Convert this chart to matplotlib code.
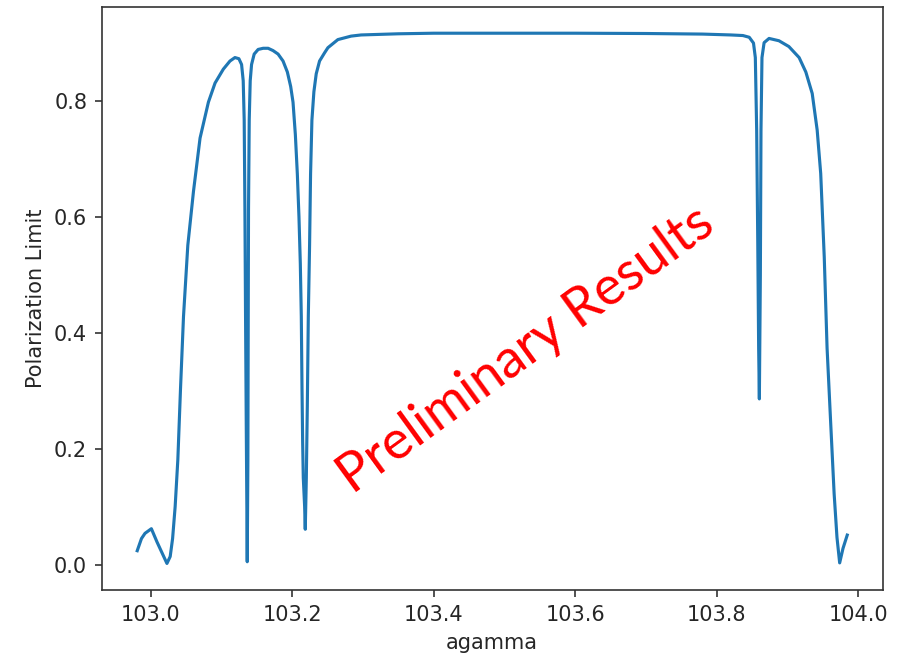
import matplotlib
matplotlib.use("Agg")
import matplotlib.pyplot as plt

# agamma scan values
agamma = [
    102.981, 102.987, 102.992, 103.001, 103.009, 103.016, 103.023, 103.0276,
    103.031, 103.0346, 103.0384, 103.0422, 103.0464, 103.0525, 103.0605,
    103.0698, 103.0816, 103.091, 103.1027, 103.1121, 103.1191, 103.1247,
    103.1285, 103.1308, 103.1322, 103.1332, 103.1341, 103.1351, 103.1365,
    103.1374, 103.1379, 103.1383, 103.1393, 103.1407, 103.1426, 103.1463,
    103.1519, 103.159, 103.166, 103.173, 103.1801, 103.1871, 103.1932,
    103.1979, 103.2012, 103.2045, 103.2073, 103.2096, 103.2115, 103.2129,
    103.2139, 103.2148, 103.2157, 103.2176, 103.2185, 103.22, 103.2214,
    103.2228, 103.2246, 103.226, 103.2279, 103.2307, 103.234, 103.2387,
    103.2457, 103.2505, 103.2646, 103.2833, 103.2974, 103.35, 103.40,
    103.50, 103.60, 103.70, 103.78, 103.82, 103.837, 103.846, 103.852,
    103.8546, 103.8565, 103.858, 103.8593, 103.8603, 103.8617, 103.8626,
    103.864, 103.867, 103.874, 103.888, 103.902, 103.9165, 103.926,
    103.935, 103.942, 103.947, 103.952, 103.956, 103.961, 103.966,
    103.970, 103.9738, 103.9785, 103.9845,
]
polLimit = [
    0.024, 0.045, 0.054, 0.062, 0.039, 0.0205, 0.002, 0.014,
    0.045, 0.100, 0.181, 0.304, 0.428, 0.551, 0.644,
    0.736, 0.798, 0.831, 0.855, 0.869, 0.875, 0.873,
    0.863, 0.835, 0.767, 0.613, 0.428, 0.2425, 0.005,
    0.181, 0.428, 0.613, 0.767, 0.835, 0.863, 0.881,
    0.889, 0.891, 0.891, 0.887, 0.881, 0.869, 0.850,
    0.825, 0.798, 0.742, 0.674, 0.600, 0.520, 0.428,
    0.304, 0.212, 0.150, 0.1007, 0.061, 0.150, 0.273,
    0.428, 0.551, 0.674, 0.767, 0.816, 0.847, 0.869,
    0.883, 0.892, 0.906, 0.912, 0.914, 0.916, 0.917,
    0.917, 0.917, 0.9165, 0.9155, 0.914, 0.913, 0.910, 0.900,
    0.875, 0.750, 0.562, 0.374, 0.286, 0.499, 0.750,
    0.875, 0.9007, 0.908, 0.904, 0.894, 0.875, 0.850,
    0.813, 0.750, 0.675, 0.531, 0.374, 0.247, 0.122,
    0.047, 0.003, 0.028, 0.051,
]

watermark = "Preliminary Results"

fig = plt.figure(figsize=(897 / 150, 657 / 150), dpi=150)
ax = fig.add_axes([0.1134, 0.102, 0.8707, 0.8878])

ax.plot(agamma, polLimit, color='#1f77b4', linewidth=1.5)

ax.set_xlabel('agamma')
ax.set_ylabel('Polarization Limit')
ax.set_xticks([103.0, 103.2, 103.4, 103.6, 103.8, 104.0])
ax.set_yticks([0.0, 0.2, 0.4, 0.6, 0.8])

for spine in ax.spines.values():
    spine.set_color('#333333')
ax.tick_params(colors='#333333', labelcolor='#262626')
ax.xaxis.label.set_color('#262626')
ax.yaxis.label.set_color('#262626')

# red "preliminary" stamp across the plot
ax.text(0.3218, 0.1629, watermark, transform=ax.transAxes,
        rotation=36, rotation_mode='anchor', ha='left', va='baseline',
        color='red', fontsize=25.8, family=['Lato', 'DejaVu Sans'])

fig.savefig('out.png', dpi=150)
